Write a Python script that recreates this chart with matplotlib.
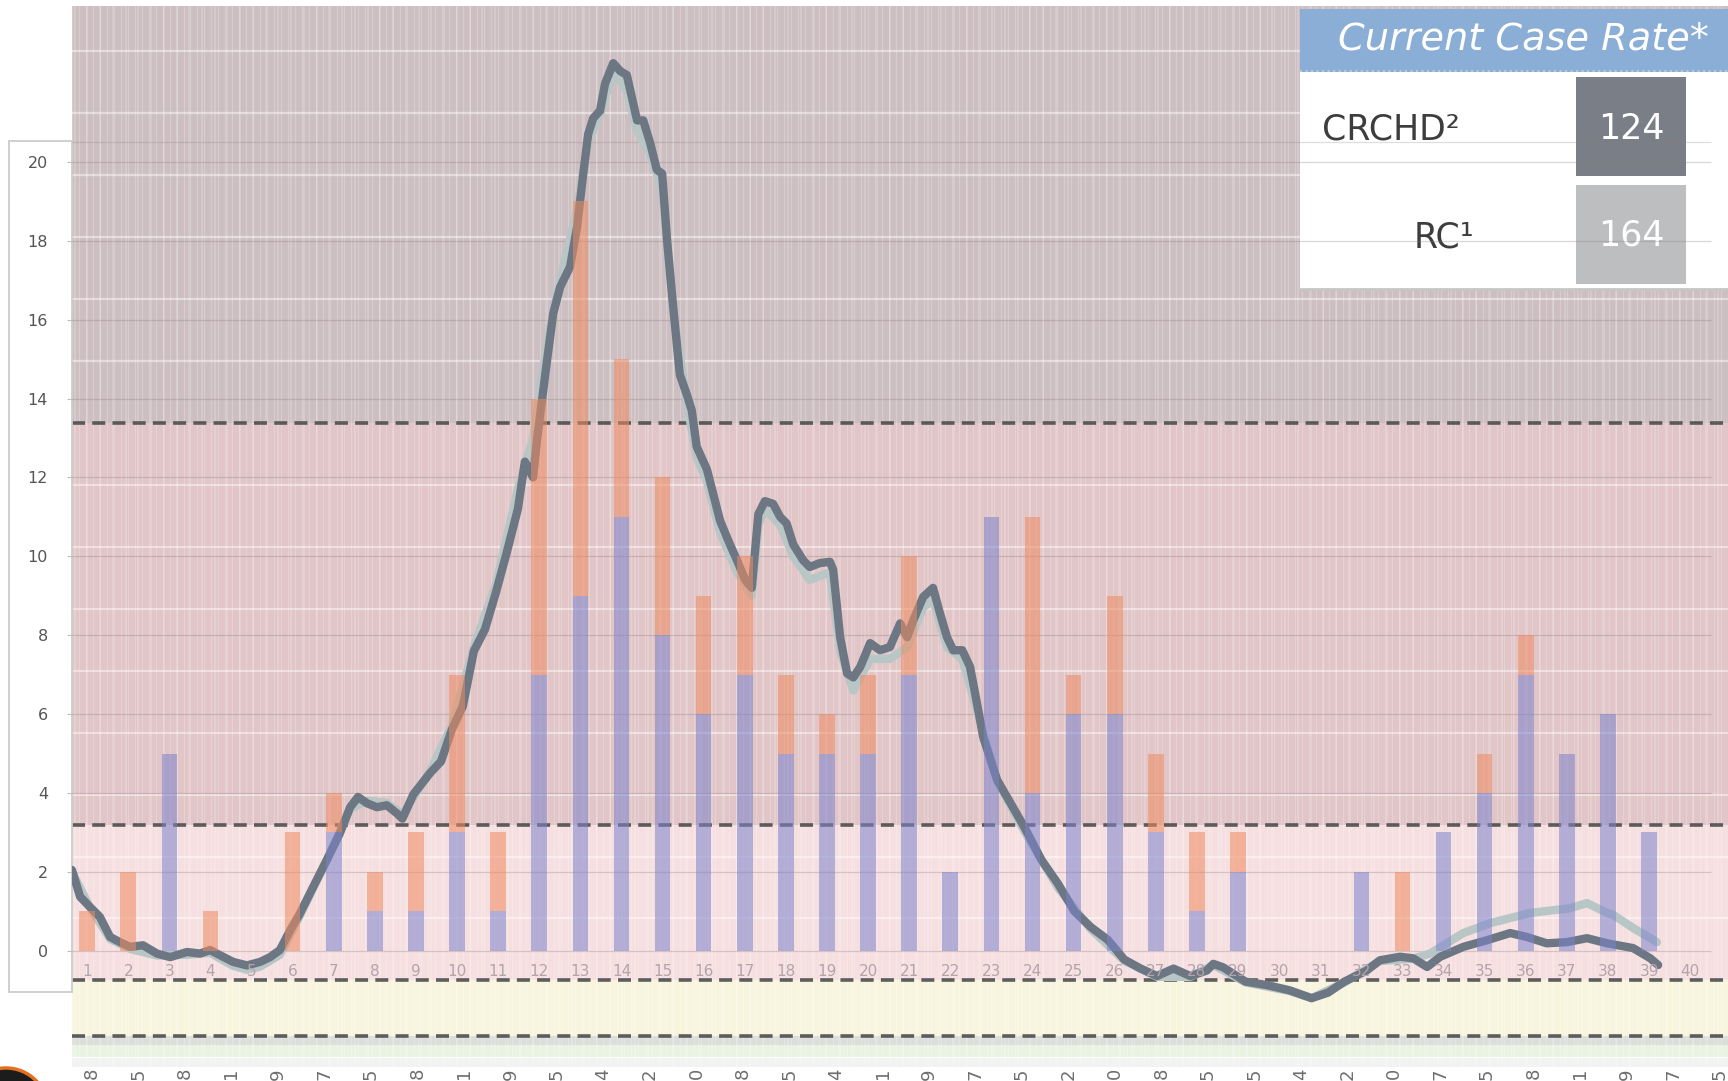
import numpy as np
import matplotlib
matplotlib.use("Agg")
import matplotlib.pyplot as plt
from matplotlib.patches import Rectangle, Circle

# ---------------- data ----------------
weeks = list(range(1, 41))
week_labels = [str(w) for w in weeks]

blue_cases = [0, 0, 5, 0, 0, 0, 3, 1, 1, 3, 1, 7, 9, 11, 8, 6, 7, 5, 5, 5,
              7, 2, 11, 4, 6, 6, 3, 1, 2, 0, 0, 2, 0, 3, 4, 7, 5, 6, 3, 0]
orange_cases = [1, 2, 0, 1, 0, 3, 1, 1, 2, 4, 2, 7, 10, 4, 4, 3, 3, 2, 1, 2,
                3, 0, 0, 7, 1, 3, 2, 2, 1, 0, 0, 0, 2, 0, 1, 1, 0, 0, 0, 0]

crchd_rate_x = [0.63, 0.83, 1.07, 1.31, 1.56, 1.80, 2.04, 2.36, 2.70, 3.02,
                3.43, 3.75, 3.99, 4.23, 4.55, 4.89, 5.21, 5.45, 5.69, 5.94,
                6.18, 6.50, 6.83, 7.15, 7.40, 7.59, 7.81, 8.05, 8.29, 8.53,
                8.67, 8.94, 9.34, 9.61, 9.87, 10.14, 10.41, 10.68, 10.95, 11.21,
                11.48, 11.65, 11.85, 11.95, 12.19, 12.34, 12.51, 12.75, 12.92, 13.07,
                13.19, 13.31, 13.48, 13.60, 13.80, 13.97, 14.13, 14.25, 14.38, 14.53,
                14.70, 14.86, 14.99, 15.11, 15.26, 15.42, 15.59, 15.71, 15.83, 16.08,
                16.40, 16.64, 16.81, 17.01, 17.17, 17.33, 17.49, 17.69, 17.86, 18.02,
                18.18, 18.42, 18.58, 18.83, 19.07, 19.15, 19.32, 19.49, 19.64, 19.81,
                20.05, 20.29, 20.53, 20.78, 20.95, 21.10, 21.34, 21.58, 21.75, 21.92,
                22.07, 22.29, 22.48, 22.65, 22.80, 23.14, 23.49, 23.82, 24.22, 24.62,
                25.02, 25.42, 25.83, 26.23, 26.63, 27.03, 27.43, 27.84, 28.24, 28.40,
                28.64, 29.18, 29.71, 30.25, 30.79, 31.19, 31.59, 32.13, 32.45, 32.94,
                33.26, 33.60, 33.92, 34.48, 35.06, 35.62, 36.03, 36.51, 37.00, 37.49,
                37.98, 38.61, 39.03, 39.22]
crchd_rate_y = [2.05, 1.37, 1.11, 0.86, 0.35, 0.22, 0.10, 0.14, -0.07, -0.16,
                -0.03, -0.07, 0.02, -0.11, -0.28, -0.37, -0.28, -0.16, 0.02, 0.52,
                0.95, 1.62, 2.30, 2.98, 3.64, 3.90, 3.74, 3.64, 3.69, 3.49,
                3.35, 3.97, 4.50, 4.80, 5.60, 6.20, 7.60, 8.15, 9.10, 10.10,
                11.20, 12.40, 12.00, 13.00, 14.97, 16.16, 16.83, 17.34, 18.35, 19.70,
                20.70, 21.10, 21.30, 21.98, 22.50, 22.30, 22.20, 21.65, 21.05, 21.05,
                20.47, 19.80, 19.70, 18.00, 16.30, 14.60, 14.10, 13.70, 12.78, 12.20,
                10.90, 10.30, 9.90, 9.40, 9.20, 11.07, 11.40, 11.33, 11.00, 10.83,
                10.30, 9.90, 9.73, 9.83, 9.86, 9.66, 7.95, 7.03, 6.93, 7.20,
                7.80, 7.62, 7.70, 8.30, 7.95, 8.38, 8.97, 9.20, 8.55, 7.95,
                7.62, 7.62, 7.20, 6.27, 5.42, 4.33, 3.70, 3.10, 2.30, 1.70,
                1.00, 0.60, 0.28, -0.22, -0.45, -0.64, -0.45, -0.64, -0.50, -0.33,
                -0.42, -0.78, -0.87, -1.00, -1.20, -1.06, -0.78, -0.50, -0.24, -0.15,
                -0.19, -0.41, -0.15, 0.10, 0.27, 0.45, 0.35, 0.19, 0.22, 0.32,
                0.19, 0.07, -0.19, -0.36]

rc_rate_x = [0.63, 1.07, 1.56, 2.04, 2.70, 3.43, 3.99, 4.55, 4.89, 5.21,
             5.69, 6.18, 6.83, 7.40, 7.81, 8.29, 8.67, 9.34, 9.87, 10.41,
             10.95, 11.48, 11.85, 12.19, 12.51, 12.92, 13.19, 13.48, 13.80, 14.13,
             14.38, 14.70, 14.99, 15.26, 15.59, 15.83, 16.08, 16.40, 16.81, 17.17,
             17.33, 17.49, 17.86, 18.18, 18.58, 19.07, 19.32, 19.64, 20.05, 20.53,
             20.95, 21.34, 21.58, 21.92, 22.29, 22.65, 23.14, 23.82, 24.62, 25.42,
             26.23, 27.03, 27.84, 28.40, 29.18, 30.25, 30.79, 31.59, 32.45, 33.26,
             33.67, 34.48, 35.13, 35.69, 36.11, 36.67, 37.08, 37.49, 37.98, 38.13,
             38.61, 39.19]
rc_rate_y = [2.00, 1.10, 0.30, 0.05, -0.12, -0.10, -0.05, -0.38, -0.48, -0.40,
             -0.10, 0.90, 2.30, 3.60, 3.80, 3.75, 3.45, 4.55, 5.70, 7.70,
             9.30, 11.70, 13.00, 15.40, 17.00, 18.80, 20.50, 21.20, 22.30, 21.80,
             20.80, 20.20, 19.30, 16.20, 13.90, 12.50, 11.90, 10.60, 9.60, 9.00,
             10.80, 11.20, 10.80, 10.00, 9.40, 9.60, 7.60, 6.60, 7.40, 7.40,
             7.70, 8.70, 8.90, 7.70, 7.40, 6.10, 4.30, 3.00, 1.60, 0.55,
             -0.25, -0.66, -0.66, -0.36, -0.80, -1.02, -1.20, -0.80, -0.26, -0.20,
             -0.07, 0.45, 0.70, 0.85, 0.96, 1.03, 1.08, 1.21, 0.96, 0.91,
             0.58, 0.22]

y_ticks = [0, 2, 4, 6, 8, 10, 12, 14, 16, 18, 20]
zone_thresholds = [-2.16, -0.73, 3.18, 13.38]

table_title = "Current Case Rate*"
table_rows = ["CRCHD\u00b2", "RC\u00b9"]
table_values = ["124", "164"]

date_tail_labels = ["8", "5", "8", "1", "9", "7", "5", "8", "1", "9", "5", "4",
                    "2", "0", "8", "5", "4", "1", "9", "7", "5", "2", "0", "8",
                    "5", "5", "4", "2", "0", "7", "5", "8", "1", "9", "7", "5"]

# ---------------- layout ----------------
W, H = 1728, 1081
fig = plt.figure(figsize=(W / 100, H / 100), dpi=100)
fig.patch.set_facecolor("white")

X0, X1 = 0.625, 40.92
Y0, Y1 = -3.30, 23.95
left_px, top_px = 71.7, 6
pos = [left_px / W, 0, 1 - left_px / W, 1 - top_px / H]

# background (zones) axes
ax_bg = fig.add_axes(pos, zorder=1)
ax_bg.set_xlim(X0, X1)
ax_bg.set_ylim(Y0, Y1)
ax_bg.axis("off")
bottom_val = -2.95
ax_bg.axhspan(zone_thresholds[3], Y1, color="#cdbfc1", lw=0)
ax_bg.axhspan(zone_thresholds[2], zone_thresholds[3], color="#e1c5c7", lw=0)
ax_bg.axhspan(zone_thresholds[1], zone_thresholds[2], color="#f6dfe0", lw=0)
ax_bg.axhspan(zone_thresholds[0], zone_thresholds[1], color="#f8f5df", lw=0)
ax_bg.axhspan(-2.39, zone_thresholds[0], color="#dcdedb", lw=0)
ax_bg.axhspan(-2.69, -2.39, color="#e8f3e2", lw=0)
ax_bg.axhspan(bottom_val, -2.72, color="#f2f2f2", lw=0)
# vertical stripe texture
ax_bg.vlines(np.arange(X0, X1, 0.17), bottom_val, Y1, colors="white", alpha=0.22, lw=0.9)
ax_bg.vlines(np.arange(X0 + 0.07, X1, 0.31), bottom_val, Y1, colors="white", alpha=0.18, lw=1.4)
# faint background grid
for gy in np.arange(zone_thresholds[3] + 1.57, Y1, 1.57):
    ax_bg.axhline(gy, color="white", alpha=0.45, lw=1.6)
for gy in np.arange(zone_thresholds[3] - 1.57, -0.5, -1.57):
    ax_bg.axhline(gy, color="white", alpha=0.45, lw=1.6)
for th in zone_thresholds:
    ax_bg.axhline(th, color="#4d4d4d", lw=2.6, dashes=(3.6, 2.0), alpha=0.9)

# pixel overlay axes (boxes, table)
ax_px = fig.add_axes([0, 0, 1, 1], zorder=2)
ax_px.set_xlim(0, W)
ax_px.set_ylim(H, 0)
ax_px.axis("off")

# y-axis white frame
ax_px.add_patch(Rectangle((9, 141), left_px - 9, 851, facecolor="white",
                          edgecolor="#cbcbcb", lw=1.3))
# table
ax_px.add_patch(Rectangle((1300, 72), W - 1300, 217, facecolor="white", edgecolor="none"))
ax_px.plot([1300, W], [289, 289], color="#c6c6c6", lw=2)
ax_px.add_patch(Rectangle((1300, 9), W - 1300, 63, facecolor="#8aaed6", edgecolor="none"))
ax_px.plot([1300, W], [71, 71], color="#b9c9dc", lw=1.5, ls=":")
ax_px.text(1338, 40, table_title, color="white", fontsize=27.5, fontstyle="italic",
           ha="left", va="center")
ax_px.text(1322, 130, table_rows[0], color="#3d3d3d", fontsize=25, ha="left", va="center")
ax_px.text(1474, 237, table_rows[1], color="#3d3d3d", fontsize=25, ha="right", va="center")
ax_px.add_patch(Rectangle((1576, 77), 110, 99, facecolor="#7a7f87", edgecolor="none"))
ax_px.add_patch(Rectangle((1576, 185), 110, 99, facecolor="#bcbebf", edgecolor="none"))
ax_px.text(1631, 129, table_values[0], color="white", fontsize=25, ha="center", va="center")
ax_px.text(1631, 236, table_values[1], color="white", fontsize=25, ha="center", va="center")

# bottom-left badge
ax_px.add_patch(Circle((6, 1110), 42, facecolor="#1c1c1c", edgecolor="#e2701f", lw=2.5))

# cut-off rotated date labels at the bottom
for k, lab in enumerate(date_tail_labels):
    ax_px.text(92 + 46.5 * k, 1068, lab, rotation=90, ha="center", va="top",
               fontsize=13, color="#6e6e6e", clip_on=True)

# main chart axes
ax = fig.add_axes(pos, zorder=3)
ax.patch.set_alpha(0)
ax.set_xlim(X0, X1)
ax.set_ylim(Y0, Y1)
for s in ax.spines.values():
    s.set_visible(False)

ax.hlines(y_ticks, X0, 40.5, colors="#8a7a7e", alpha=0.3, lw=0.9, zorder=1)
ax.hlines([20.5], X0, 40.5, colors="#8a7a7e", alpha=0.25, lw=0.9, zorder=1)

ax.plot(rc_rate_x, rc_rate_y, color="#b8c6c6", lw=6, solid_joinstyle="round",
        solid_capstyle="round", zorder=2)
ax.plot(crchd_rate_x, crchd_rate_y, color="#6c7783", lw=6, solid_joinstyle="round",
        solid_capstyle="round", zorder=3)

ax.bar(weeks, blue_cases, width=0.38, color="#7c83cc", alpha=0.55, lw=0, zorder=4)
ax.bar(weeks, orange_cases, bottom=blue_cases, width=0.38, color="#ef8a5f",
       alpha=0.55, lw=0, zorder=4)

for w, lab in zip(weeks, week_labels):
    ax.text(w, -0.53, lab, ha="center", va="center", fontsize=11, color="#b3a3ab", zorder=5)

ax.set_xticks([])
ax.set_yticks(y_ticks)
ax.tick_params(axis="y", length=3.6, color="#bdbdbd", pad=13.5, labelsize=11.5,
               labelcolor="#555555")

fig.savefig("out.png", dpi=100)
